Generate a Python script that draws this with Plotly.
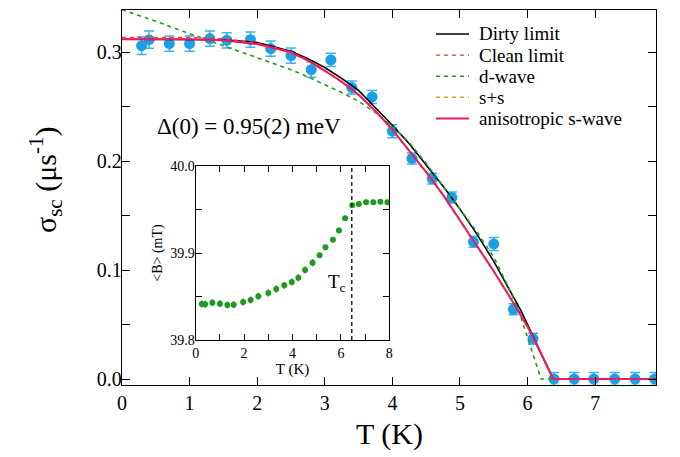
import plotly.graph_objects as go

# ---- muSR superfluid response: sigma_sc vs temperature ----
T_data = [0.29, 0.40, 0.70, 1.00, 1.30, 1.55, 1.90, 2.20, 2.50, 2.80, 3.09, 3.40, 3.70, 4.00,
          4.29, 4.59, 4.88, 5.20, 5.50, 5.79, 6.08, 6.39, 6.69, 6.98, 7.29, 7.59, 7.88]
sigma_sc = [0.306, 0.3116, 0.308, 0.308, 0.3126, 0.311, 0.3116, 0.3034, 0.297, 0.284, 0.293, 0.2676,
            0.259, 0.2275, 0.2025, 0.184, 0.1667, 0.126, 0.124, 0.064, 0.037, 0.0, 0.0, 0.0, 0.0, 0.0, 0.0]
sigma_err = [0.008, 0.008, 0.007, 0.007, 0.007, 0.007, 0.007, 0.007, 0.007, 0.007, 0.006, 0.006,
             0.006, 0.006, 0.005, 0.005, 0.005, 0.005, 0.006, 0.005, 0.005, 0.006, 0.006, 0.006,
             0.006, 0.006, 0.006]

# ---- model curves ----
T_fit = [0, 0.5, 1.0, 1.5, 2.0, 2.5, 2.75, 3.0, 3.25, 3.5, 3.75, 4.0, 4.25, 4.5, 4.75, 5.0,
         5.25, 5.5, 5.75, 5.9, 6.0, 6.1, 6.2, 6.38, 7.9]
dirty = [0.312, 0.312, 0.312, 0.3115, 0.309, 0.301, 0.294, 0.286, 0.276, 0.265, 0.249, 0.233,
         0.216, 0.197, 0.177, 0.156, 0.133, 0.108, 0.080, 0.063, 0.050, 0.037, 0.023, 0.0, 0.0]
clean = [0.3135, 0.3135, 0.3135, 0.3125, 0.3085, 0.3005, 0.293, 0.2835, 0.273, 0.261, 0.246, 0.229,
         0.210, 0.190, 0.169, 0.146, 0.123, 0.099, 0.074, 0.060, 0.048, 0.036, 0.023, 0.0, 0.0]
dwave = [0.339, 0.3285, 0.317, 0.306, 0.2955, 0.284, 0.2775, 0.2705, 0.263, 0.255, 0.2445, 0.232,
         0.217, 0.198, 0.177, 0.157, 0.135, 0.112, 0.080, 0.057, 0.039, 0.019, 0.0, 0.0, 0.0]
s_plus_s = [0.3125, 0.3125, 0.312, 0.311, 0.3075, 0.2995, 0.292, 0.2828, 0.2725, 0.2605, 0.2455,
            0.2285, 0.2095, 0.1895, 0.1685, 0.1455, 0.1225, 0.0985, 0.0735, 0.0585, 0.0478, 0.0358,
            0.0228, 0.0, 0.0]
aniso_s = [0.312, 0.312, 0.312, 0.311, 0.3075, 0.300, 0.2925, 0.283, 0.273, 0.261, 0.246, 0.229,
           0.210, 0.190, 0.169, 0.146, 0.123, 0.099, 0.074, 0.059, 0.048, 0.036, 0.023, 0.0, 0.0]

# ---- inset: mean internal field ----
T_inset = [0.25, 0.39, 0.69, 1.00, 1.31, 1.57, 1.96, 2.27, 2.59, 3.00, 3.33, 3.66, 3.97, 4.24,
           4.52, 4.83, 5.12, 5.36, 5.67, 5.92, 6.17, 6.47, 6.74, 7.04, 7.34, 7.63, 7.92]
B_mean = [39.8414, 39.841, 39.8429, 39.8418, 39.8402, 39.8406, 39.8437, 39.846, 39.8502, 39.854,
          39.8586, 39.8628, 39.8667, 39.8716, 39.8805, 39.8889, 39.8973, 39.9065, 39.9153, 39.926,
          39.9398, 39.9548, 39.9563, 39.9582, 39.9582, 39.959, 39.9582]
B_err = [0.004, 0.004, 0.004, 0.004, 0.004, 0.004, 0.004, 0.004, 0.004, 0.004, 0.004, 0.004, 0.004,
         0.004, 0.004, 0.004, 0.003, 0.003, 0.003, 0.003, 0.003, 0.003, 0.003, 0.003, 0.003, 0.003, 0.003]
Tc = 6.45

FONT = "Liberation Serif, Times New Roman, DejaVu Serif, serif"
BLUE = "#1A9FE8"
GREEN_PTS = "#1E9A1E"

W, H = 680, 457
ML, MR, MT, MB = 122, 24, 10, 72
PW, PH = W - ML - MR, H - MT - MB


def px_to_paper(px, py):
    return (px - ML) / PW, (H - MB - py) / PH


fig = go.Figure()

fig.add_trace(go.Scatter(
    x=T_data, y=sigma_sc, mode="markers", showlegend=False,
    marker=dict(color=BLUE, size=11, line=dict(width=0)),
    error_y=dict(type="data", array=sigma_err, color="#3DB2F0", thickness=1.5, width=5),
))

curves = [
    ("Dirty limit", dirty, dict(color="black", width=1.6)),
    ("Clean limit", clean, dict(color="#F03A3A", width=1.4, dash="4px,4px")),
    ("d-wave", dwave, dict(color="#1AA31A", width=1.6, dash="4px,4px")),
    ("s+s", s_plus_s, dict(color="#E0A030", width=1.4, dash="4px,4px")),
    ("anisotropic s-wave", aniso_s, dict(color="#EE1A5E", width=2)),
]
for name, vals, style in curves:
    fig.add_trace(go.Scatter(x=T_fit, y=vals, mode="lines", name=name, line=style, showlegend=False))

fig.add_trace(go.Scatter(
    x=T_inset, y=B_mean, mode="markers", showlegend=False, xaxis="x2", yaxis="y2",
    marker=dict(color=GREEN_PTS, size=6),
    error_y=dict(type="data", array=B_err, color=GREEN_PTS, thickness=1.5, width=0),
))
fig.add_trace(go.Scatter(
    x=[Tc, Tc], y=[39.8, 40.0], mode="lines", showlegend=False, xaxis="x2", yaxis="y2",
    line=dict(color="black", width=1.3, dash="4px,3px"),
))

# key for the model curves, top right of the main panel
shapes = []
annotations = []
row_y0, row_step = 34, 21.1
for i, (name, vals, style) in enumerate(curves):
    py = row_y0 + i * row_step
    x0, y0 = px_to_paper(436, py)
    x1, _ = px_to_paper(469, py)
    shapes.append(dict(type="line", xref="paper", yref="paper", x0=x0, x1=x1, y0=y0, y1=y0,
                       line=dict(color=style["color"], width=style["width"], dash=style.get("dash", "solid"))))
    tx, _ = px_to_paper(477, py)
    annotations.append(dict(x=tx, y=y0, xref="paper", yref="paper", text=name, showarrow=False,
                            xanchor="left", yanchor="middle", font=dict(size=19, family=FONT)))

ytx, yty = px_to_paper(45, 180)
xtx, xty = px_to_paper(389, 434)
annotations += [
    dict(x=ytx, y=yty, xref="paper", yref="paper", text="σ<sub>sc</sub> (μs<sup>-1</sup>)",
         showarrow=False, textangle=-90, xanchor="center", yanchor="middle",
         font=dict(size=30, family=FONT)),
    dict(x=xtx, y=xty, xref="paper", yref="paper", text="T (K)", showarrow=False,
         xanchor="center", yanchor="middle", font=dict(size=30, family=FONT)),
    dict(x=0.49, y=0.2315, xref="x", yref="y", text="Δ(0) = 0.95(2) meV", showarrow=False,
         xanchor="left", yanchor="middle", font=dict(size=23, family=FONT)),
    dict(x=5.85, y=39.866, xref="x2", yref="y2", text="T<sub>c</sub>", showarrow=False,
         xanchor="center", yanchor="middle", font=dict(size=19, family=FONT)),
]

axis_common = dict(showline=True, linecolor="black", linewidth=1.3, mirror="ticks",
                   ticks="inside", tickcolor="black", showgrid=False, zeroline=False,
                   automargin=False)

fig.update_layout(
    width=W, height=H,
    margin=dict(l=ML, r=MR, t=MT, b=MB),
    paper_bgcolor="white", plot_bgcolor="white",
    font=dict(family=FONT, color="black"),
    showlegend=False,
    xaxis=dict(**axis_common, range=[0, 7.9], dtick=1, tick0=0, ticklen=8, tickwidth=1.3,
               tickfont=dict(size=20, family=FONT)),
    yaxis=dict(**axis_common, range=[-0.0055, 0.3388], dtick=0.1, tick0=0, tickformat=".1f",
               ticklen=8, tickwidth=1.3, tickfont=dict(size=20, family=FONT), ticklabelstandoff=-5,
               minor=dict(dtick=0.05, tick0=0, ticks="inside", ticklen=8, tickwidth=1.3, tickcolor="black")),
    xaxis2=dict(**axis_common, domain=[0.138, 0.5006], anchor="y2", range=[0, 8], dtick=2, tick0=0,
                ticklen=6, tickwidth=1.2, tickfont=dict(size=14, family=FONT),
                minor=dict(dtick=1, tick0=0, ticks="inside", ticklen=6, tickwidth=1.2, tickcolor="black"),
                title=dict(text="T (K)", font=dict(size=15, family=FONT), standoff=2)),
    yaxis2=dict(**axis_common, domain=[0.12, 0.584], anchor="x2", range=[39.8, 40.0], dtick=0.1,
                tick0=39.8, tickformat=".1f", ticklen=6, tickwidth=1.2, tickfont=dict(size=14, family=FONT),
                ticklabelstandoff=-3,
                minor=dict(dtick=0.05, tick0=39.8, ticks="inside", ticklen=6, tickwidth=1.2, tickcolor="black"),
                title=dict(text="&lt;B&gt; (mT)", font=dict(size=14, family=FONT), standoff=4)),
    shapes=shapes,
    annotations=annotations,
)

fig.write_html("out.html")
